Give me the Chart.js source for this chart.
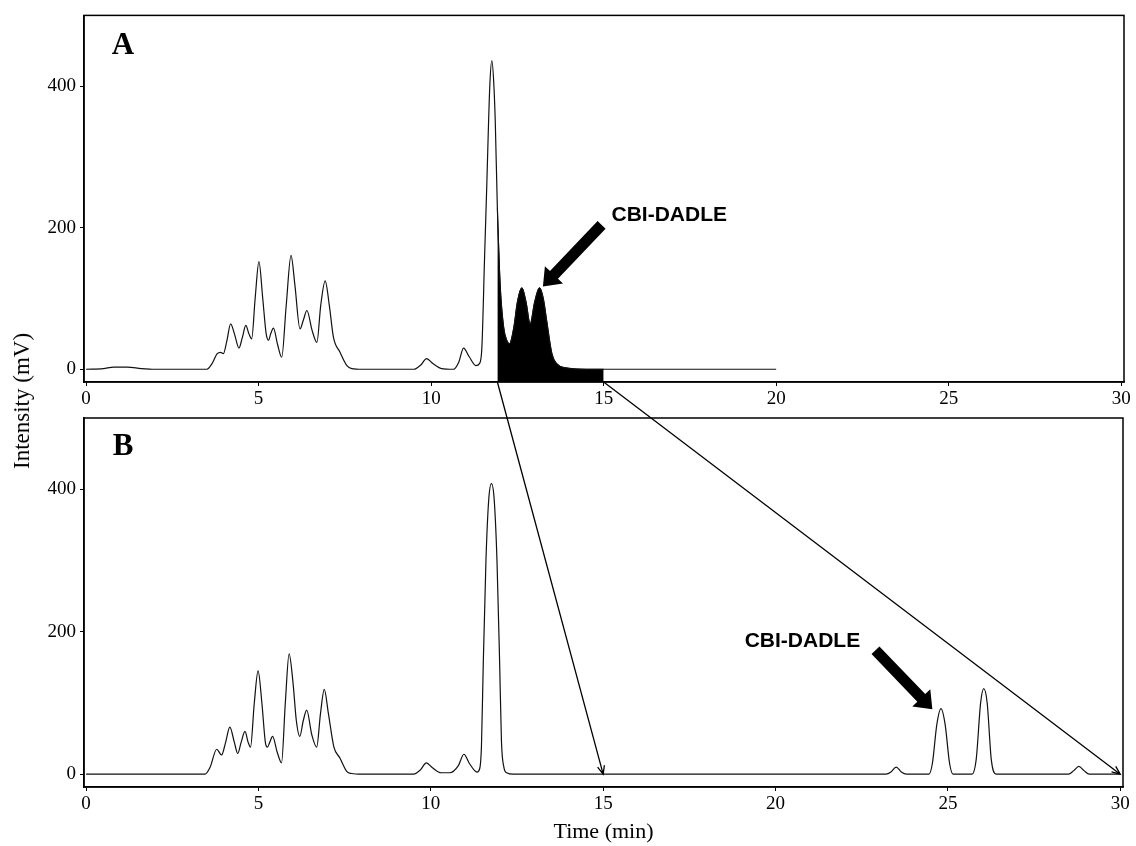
<!DOCTYPE html>
<html lang="en">
<head>
  <meta charset="UTF-8">
  <title>CBI-DADLE chromatograms</title>
  <style>
    body { margin: 0; background: #fff; }
    .wrap { position: relative; width: 1136px; height: 846px; overflow: hidden; }
    .wrap canvas { position: absolute; left: 0; }
    #chartA { top: 0; }
    #chartB { top: 400px; }
    #overlay { top: 0; pointer-events: none; }
    .ytitle {
      position: absolute; left: 22px; top: 401px;
      transform: translate(-50%, -50%) rotate(-90deg);
      font: 23px 'Liberation Serif', serif; color: #000; white-space: nowrap;
    }
  </style>
  <script src="https://cdn.jsdelivr.net/npm/chart.js"></script>
</head>
<body>
  <div class="wrap">
    <canvas id="chartA" width="1136" height="412"></canvas>
    <canvas id="chartB" width="1136" height="446"></canvas>
    <canvas id="overlay" width="1136" height="846"></canvas>
    <div class="ytitle">Intensity (mV)</div>
  </div>
  <script>
    // run A: crude mixture (min, mV)
    const timeA = [0, 0.5, 0.8, 1.2, 1.6, 2.0, 3.0, 3.5, 3.65, 3.8, 3.9, 3.98, 4.08, 4.19, 4.3, 4.43, 4.53, 4.63, 4.72, 4.8,
      4.9, 5.01, 5.12, 5.22, 5.29, 5.35, 5.43, 5.55, 5.67, 5.8, 5.94, 6.05, 6.2, 6.3, 6.4, 6.55, 6.69, 6.8, 6.93, 7.05,
      7.17, 7.36, 7.56, 7.7, 8.0, 9.5, 9.7, 9.87, 10.05, 10.3, 10.65, 10.8, 10.94, 11.1, 11.3, 11.4, 11.47, 11.55, 11.61, 11.7,
      11.76, 11.82, 11.86, 11.92, 12.0, 12.1, 12.2, 12.27, 12.4, 12.5, 12.63, 12.75, 12.87, 13.0, 13.14, 13.25, 13.35, 13.5, 13.64, 13.9,
      14.5, 15, 20];
    const intensityA = [0, 1, 3, 3, 1, 0, 0, 0, 8, 22, 24, 22, 40, 64, 50, 30, 45, 62, 50, 43,
      100, 152, 100, 50, 41, 50, 58, 35, 17, 90, 161, 120, 57, 70, 83, 55, 38, 90, 125, 90,
      45, 24, 5, 1, 0, 0, 6, 15, 8, 1, 0, 10, 30, 18, 5, 8, 30, 160, 255, 400,
      436, 400, 348, 227, 120, 60, 40, 36, 60, 95, 115, 95, 64, 95, 115, 100, 68, 22, 8, 2,
      0, 0, 0];

    // run B: re-injection after collection
    const timeB = [0, 3.0, 3.45, 3.6, 3.79, 3.93, 4.05, 4.17, 4.3, 4.4, 4.5, 4.61, 4.7, 4.77, 4.88, 4.99, 5.1, 5.2, 5.26, 5.33,
      5.41, 5.55, 5.67, 5.78, 5.89, 6.0, 6.1, 6.2, 6.3, 6.4, 6.55, 6.69, 6.8, 6.91, 7.03, 7.19, 7.36, 7.56, 7.7, 8.0,
      9.5, 9.7, 9.87, 10.05, 10.3, 10.55, 10.8, 10.96, 11.12, 11.34, 11.42, 11.47, 11.52, 11.6, 11.68, 11.76, 11.84, 11.92, 12.0, 12.05,
      12.12, 12.2, 12.4, 23.2, 23.35, 23.5, 23.65, 23.8, 24.45, 24.55, 24.68, 24.8, 24.92, 25.05, 25.15, 25.7, 25.82, 25.95, 26.04, 26.14,
      26.26, 26.4, 28.5, 28.65, 28.8, 28.95, 29.1, 30];
    const intensityB = [0, 0, 0, 10, 35, 27, 45, 66, 45, 29, 45, 60, 45, 38, 100, 145, 100, 45, 38, 45,
      53, 30, 16, 100, 169, 130, 75, 53, 75, 90, 55, 38, 85, 119, 85, 38, 23, 4, 1, 0,
      0, 6, 16, 9, 2, 2, 12, 28, 15, 3, 8, 40, 150, 300, 385, 408, 385, 300, 150, 46,
      10, 2, 0, 0, 3, 10, 3, 0, 0, 15, 70, 92, 70, 15, 0, 0, 20, 100, 120, 100,
      20, 0, 0, 5, 11, 5, 0, 0];

    const xTicks = [0, 5, 10, 15, 20, 25, 30];
    const yTicks = [0, 200, 400];
    const fillStart = 11.92;   // collected fraction in run A
    const fillEnd = 15;
    const peakLabel = 'CBI-DADLE';

    const serif = "'Liberation Serif', 'Times New Roman', serif";

    function toPoints(ts, vs) {
      return ts.map((t, i) => ({ x: t, y: vs[i] }));
    }

    function fatArrow(ctx, x1, y1, x2, y2) {
      const ang = Math.atan2(y2 - y1, x2 - x1);
      const len = Math.hypot(x2 - x1, y2 - y1);
      ctx.save();
      ctx.translate(x2, y2);
      ctx.rotate(ang);
      ctx.beginPath();
      ctx.moveTo(0, 0);
      ctx.lineTo(-16, -12.5);
      ctx.lineTo(-16, -5.5);
      ctx.lineTo(-len, -5.5);
      ctx.lineTo(-len, 5.5);
      ctx.lineTo(-16, 5.5);
      ctx.lineTo(-16, 12.5);
      ctx.closePath();
      ctx.fillStyle = '#000';
      ctx.fill();
      ctx.restore();
    }

    function thinArrow(ctx, x1, y1, x2, y2) {
      const ang = Math.atan2(y2 - y1, x2 - x1);
      ctx.save();
      ctx.strokeStyle = '#000';
      ctx.lineWidth = 1.3;
      ctx.beginPath();
      ctx.moveTo(x1, y1);
      ctx.lineTo(x2, y2);
      ctx.moveTo(x2 - 9 * Math.cos(ang - 0.4), y2 - 9 * Math.sin(ang - 0.4));
      ctx.lineTo(x2, y2);
      ctx.lineTo(x2 - 9 * Math.cos(ang + 0.4), y2 - 9 * Math.sin(ang + 0.4));
      ctx.stroke();
      ctx.restore();
    }

    // box around plot, panel letter, peak label with fat arrow
    const panelMarks = {
      id: 'panelMarks',
      afterDatasetsDraw(chart, args, opts) {
        const { ctx, chartArea: a, scales: { x, y } } = chart;
        ctx.save();
        ctx.strokeStyle = '#000';
        ctx.lineWidth = 1.5;
        ctx.strokeRect(a.left, a.top, a.right - a.left, a.bottom - a.top);
        ctx.fillStyle = '#000';
        ctx.textAlign = 'center';
        ctx.textBaseline = 'middle';
        ctx.font = 'bold 31px ' + serif;
        ctx.fillText(opts.letter, a.left + 39, a.top + opts.letterDy);
        ctx.font = "bold 21px 'Liberation Sans', Arial, sans-serif";
        ctx.fillText(peakLabel, x.getPixelForValue(opts.label[0]), y.getPixelForValue(opts.label[1]));
        fatArrow(ctx,
          x.getPixelForValue(opts.arrow[0]), y.getPixelForValue(opts.arrow[1]),
          x.getPixelForValue(opts.arrow[2]), y.getPixelForValue(opts.arrow[3]));
        ctx.restore();
      }
    };

    function makePanel(id, datasets, cfg) {
      return new Chart(document.getElementById(id), {
        type: 'line',
        data: { datasets },
        options: {
          responsive: false,
          animation: false,
          layout: { padding: { top: cfg.padTop, right: cfg.padRight, left: 0, bottom: 0 } },
          plugins: {
            legend: { display: false },
            tooltip: { enabled: false },
            panelMarks: cfg.marks
          },
          scales: {
            x: {
              type: 'linear',
              min: -0.06,
              max: 30.08,
              afterBuildTicks: s => { s.ticks = xTicks.map(v => ({ value: v })); },
              afterFit: s => { s.height = cfg.xHeight; },
              grid: { drawOnChartArea: false, drawTicks: true, tickLength: 4, color: '#000' },
              border: { color: '#000', width: 1.5 },
              ticks: { color: '#000', padding: 2, maxRotation: 0, autoSkip: false, font: { family: serif, size: 19 } },
              title: {
                display: !!cfg.xTitle,
                text: cfg.xTitle || '',
                color: '#000',
                font: { family: serif, size: 22 },
                padding: { top: 0, bottom: 1 }
              }
            },
            y: {
              min: -18,
              max: 500,
              afterBuildTicks: s => { s.ticks = yTicks.map(v => ({ value: v })); },
              afterFit: s => { s.width = 84; },
              grid: { drawOnChartArea: false, drawTicks: true, tickLength: 4, color: '#000' },
              border: { color: '#000', width: 1.5 },
              ticks: { color: '#000', padding: 4, font: { family: serif, size: 19 } }
            }
          }
        },
        plugins: [panelMarks]
      });
    }

    const lineStyle = {
      borderColor: '#111',
      borderWidth: 1.2,
      pointRadius: 0,
      fill: false,
      cubicInterpolationMode: 'monotone'
    };

    const chartA = makePanel('chartA', [
      Object.assign({ data: toPoints(timeA, intensityA), order: 0 }, lineStyle),
      {
        data: toPoints(timeA, intensityA).filter(p => p.x >= fillStart && p.x <= fillEnd),
        order: 1,
        borderColor: '#000',
        borderWidth: 1,
        backgroundColor: '#000',
        pointRadius: 0,
        fill: 'start',
        cubicInterpolationMode: 'monotone'
      }
    ], {
      padTop: 13, padRight: 12, xHeight: 30,
      marks: { letter: 'A', letterDy: 31, label: [16.9, 217], arrow: [14.94, 204, 13.24, 117] }
    });

    const chartB = makePanel('chartB', [
      Object.assign({ data: toPoints(timeB, intensityB) }, lineStyle)
    ], {
      padTop: 18, padRight: 13, xHeight: 59, xTitle: 'Time (min)',
      marks: { letter: 'B', letterDy: 29, label: [20.78, 187], arrow: [22.9, 174, 24.55, 91] }
    });

    // arrows linking the collected fraction in A to where it elutes in B
    const offA = 0, offB = 400;
    const ov = document.getElementById('overlay').getContext('2d');
    const xa = chartA.scales.x, ya = chartA.scales.y;
    const xb = chartB.scales.x, yb = chartB.scales.y;
    thinArrow(ov, xa.getPixelForValue(fillStart), offA + ya.bottom, xb.getPixelForValue(fillEnd), offB + yb.getPixelForValue(0));
    thinArrow(ov, xa.getPixelForValue(fillEnd), offA + ya.bottom, xb.getPixelForValue(30), offB + yb.getPixelForValue(0));
  </script>
</body>
</html>
